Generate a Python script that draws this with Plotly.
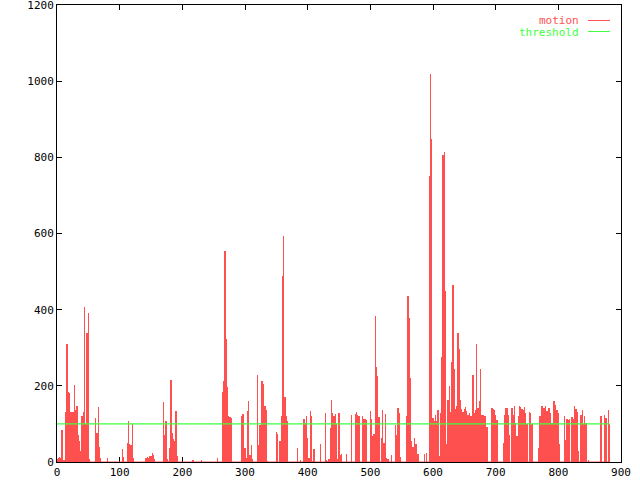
import plotly.graph_objects as go

# motion value sampled every FRAME_STEP frames, starting at frame 0
FRAME_STEP = 2
motion = [
    8, 10, 12, 10, 84, 5, 4, 132, 309, 185,
    180, 132, 130, 132, 203, 137, 148, 71, 55, 28,
    120, 130, 408, 99, 340, 392, 7, 0, 0, 0,
    0, 115, 76, 144, 40, 11, 0, 0, 0, 0,
    11, 0, 0, 0, 0, 0, 0, 0, 0, 0,
    0, 0, 33, 14, 0, 0, 51, 107, 48, 45,
    101, 11, 0, 0, 0, 0, 0, 0, 0, 0,
    0, 10, 12, 11, 16, 16, 23, 18, 7, 0,
    0, 0, 0, 0, 0, 157, 71, 107, 7, 3,
    38, 215, 77, 60, 55, 133, 16, 0, 0, 0,
    0, 0, 0, 0, 0, 0, 0, 0, 5, 5,
    0, 0, 0, 0, 0, 5, 0, 0, 0, 0,
    0, 0, 0, 0, 0, 0, 0, 0, 10, 0,
    0, 0, 185, 213, 555, 322, 197, 122, 118, 115,
    0, 0, 0, 0, 0, 0, 0, 120, 125, 127,
    37, 11, 135, 159, 18, 44, 7, 0, 0, 0,
    229, 44, 96, 213, 213, 206, 148, 137, 3, 0,
    0, 0, 0, 0, 0, 78, 74, 0, 56, 122,
    489, 594, 171, 122, 107, 0, 0, 0, 0, 0,
    0, 0, 38, 0, 5, 0, 0, 114, 102, 120,
    63, 11, 135, 120, 3, 33, 0, 0, 0, 0,
    48, 0, 0, 0, 129, 5, 3, 7, 90, 163,
    129, 120, 125, 99, 7, 129, 18, 21, 0, 0,
    0, 21, 0, 0, 0, 124, 0, 0, 125, 131,
    124, 122, 0, 0, 122, 114, 114, 111, 0, 0,
    135, 113, 68, 74, 383, 249, 227, 118, 0, 64,
    137, 49, 127, 11, 7, 0, 0, 19, 0, 0,
    96, 70, 142, 129, 12, 0, 0, 0, 0, 122,
    437, 378, 221, 55, 40, 64, 48, 46, 22, 0,
    0, 0, 0, 21, 0, 23, 0, 750, 1020, 848,
    115, 107, 124, 107, 137, 16, 129, 276, 805, 815,
    450, 48, 162, 199, 132, 262, 465, 243, 138, 148,
    338, 297, 164, 138, 132, 138, 144, 135, 124, 129,
    120, 120, 229, 129, 136, 311, 141, 159, 243, 124,
    124, 122, 122, 93, 0, 0, 0, 142, 140, 137,
    124, 111, 0, 0, 0, 0, 49, 123, 141, 141,
    124, 71, 0, 141, 124, 146, 103, 68, 120, 146,
    144, 140, 137, 144, 129, 101, 0, 130, 128, 101,
    0, 0, 0, 0, 38, 120, 120, 147, 141, 141,
    148, 135, 141, 141, 129, 103, 160, 159, 150, 137,
    129, 48, 0, 0, 0, 120, 58, 114, 111, 114,
    0, 118, 114, 146, 138, 130, 29, 0, 124, 137,
    99, 120, 102, 0, 5, 0, 0, 0, 0, 0,
    0, 0, 0, 0, 120, 0, 0, 124, 115, 0,
    137, 101,
]
frames = list(range(0, FRAME_STEP * len(motion), FRAME_STEP))
threshold = 100

x_ticks = [0, 100, 200, 300, 400, 500, 600, 700, 800, 900]
y_ticks = [0, 200, 400, 600, 800, 1000, 1200]

RED = "#ff5050"
GREEN = "#40ff40"
FONT = "DejaVu Sans Mono"

fig = go.Figure()
fig.add_trace(go.Bar(
    x=frames, y=motion, width=FRAME_STEP,
    marker=dict(color=RED, line=dict(width=0)),
    showlegend=False, hoverinfo="skip",
))
# baseline of the impulses (zero-height impulses still leave a dot)
fig.add_trace(go.Scatter(
    x=[frames[0], frames[-1]], y=[0, 0], mode="lines",
    line=dict(color=RED, width=1), showlegend=False, hoverinfo="skip",
))
fig.add_trace(go.Scatter(
    x=[frames[0], frames[-1]], y=[threshold, threshold], mode="lines",
    line=dict(color=GREEN, width=1.2), showlegend=False, hoverinfo="skip",
))

axis_common = dict(
    showgrid=False, zeroline=False, showline=True, linecolor="black", linewidth=1,
    mirror="allticks", ticks="inside", ticklen=5, tickcolor="black", tickwidth=1,
    layer="below traces", automargin=False, ticklabeloverflow="allow",
    tickfont=dict(family=FONT, size=11, color="black"),
)

fig.update_layout(
    width=640, height=480,
    margin=dict(l=57, r=19, t=5, b=18),
    paper_bgcolor="white", plot_bgcolor="white",
    bargap=0,
    hovermode=False,
    xaxis=dict(range=[0, 900], tickvals=x_ticks, ticktext=[str(v) for v in x_ticks], **axis_common),
    yaxis=dict(range=[0, 1200], tickvals=y_ticks, ticktext=[str(v) for v in y_ticks], **axis_common),
    annotations=[
        dict(x=0.929, y=0.965, xref="paper", yref="paper", text="motion", showarrow=False,
             xanchor="right", yanchor="middle", font=dict(family=FONT, size=11, color=RED)),
        dict(x=0.929, y=0.939, xref="paper", yref="paper", text="threshold", showarrow=False,
             xanchor="right", yanchor="middle", font=dict(family=FONT, size=11, color=GREEN)),
    ],
    shapes=[
        dict(type="line", xref="paper", yref="paper", x0=0.9415, x1=0.9805, y0=0.9661, y1=0.9661,
             line=dict(color=RED, width=1)),
        dict(type="line", xref="paper", yref="paper", x0=0.9415, x1=0.9805, y0=0.9420, y1=0.9420,
             line=dict(color=GREEN, width=1)),
    ],
)

fig.write_html(
    "out.html",
    config={"displayModeBar": False, "staticPlot": True},
    post_script="document.body.style.margin='0px';document.body.style.padding='0px';",
)
